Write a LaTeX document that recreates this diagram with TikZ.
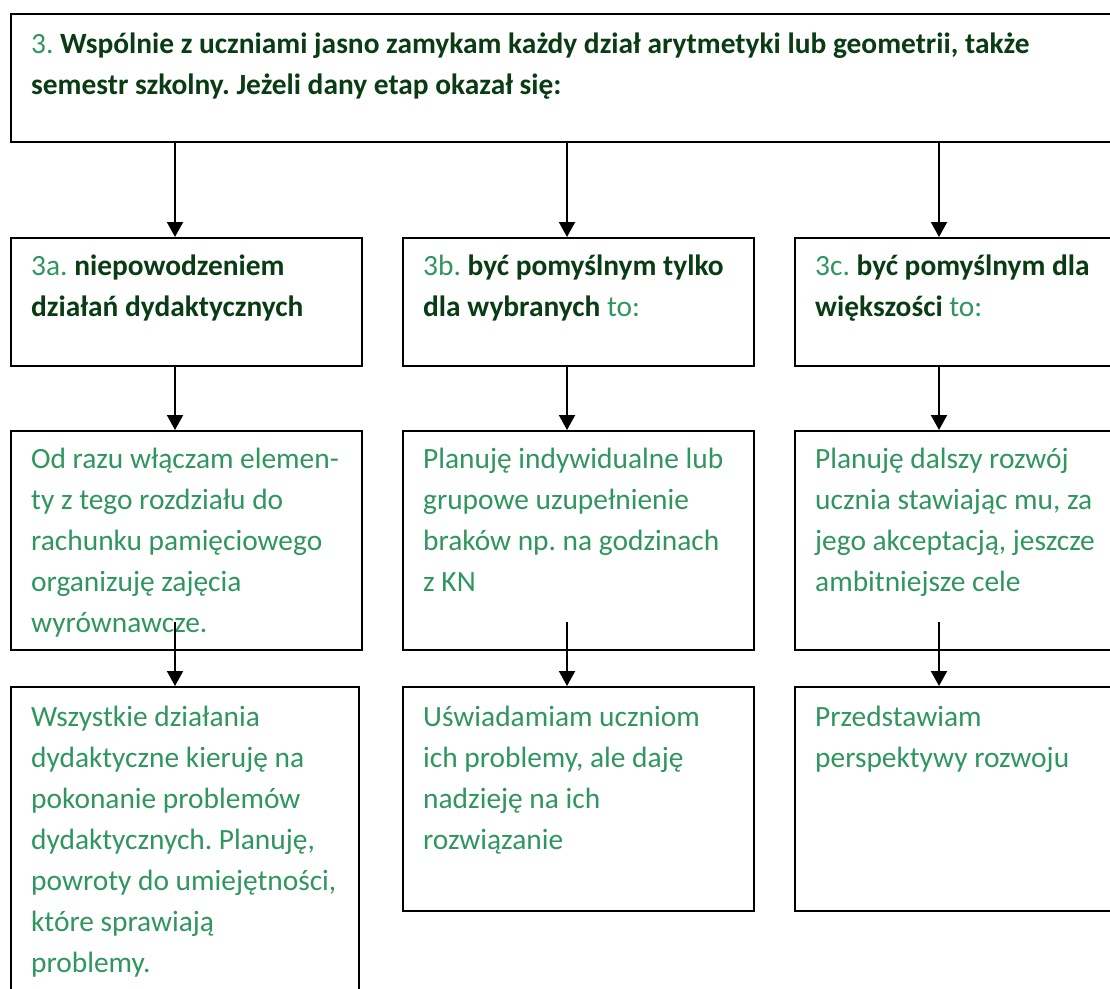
\documentclass[tikz,border=0pt]{standalone}
\usepackage{fontspec}
\setmainfont{Carlito}
\usetikzlibrary{arrows.meta}
\definecolor{lgreen}{RGB}{48,150,95}
\definecolor{dgreen}{RGB}{10,60,20}
\newcommand\dg[1]{{\color{dgreen}\bfseries #1}}
\tikzset{
  boxstyle/.style={draw=black, line width=2pt, rectangle, inner sep=0pt, fill=none},
  txt/.style={anchor=north west, inner sep=0pt, align=left, text=lgreen,
    font=\fontsize{29.4}{41}\selectfont\frenchspacing},
  arr/.style={line width=2pt, -{Triangle[width=16pt,length=15pt]}}
}
\begin{document}
\begin{tikzpicture}[x=1pt,y=-1pt]
\useasboundingbox (0,0) rectangle (1110,988);
\clip (0,0) rectangle (1110,988);
\fill[white] (0,0) rectangle (1110,988);
% boxes
\node[boxstyle, minimum width=1110pt, minimum height=128pt, anchor=north west] (top) at (10,13) {};
\node[boxstyle, minimum width=351pt, minimum height=128pt, anchor=north west] (a2) at (10,237) {};
\node[boxstyle, minimum width=351pt, minimum height=128pt, anchor=north west] (b2) at (402,237) {};
\node[boxstyle, minimum width=330pt, minimum height=128pt, anchor=north west] (c2) at (794,237) {};
\node[boxstyle, minimum width=351pt, minimum height=219pt, anchor=north west] (a3) at (10,430) {};
\node[boxstyle, minimum width=351pt, minimum height=219pt, anchor=north west] (b3) at (402,430) {};
\node[boxstyle, minimum width=330pt, minimum height=219pt, anchor=north west] (c3) at (794,430) {};
\node[boxstyle, minimum width=348pt, minimum height=320pt, anchor=north west] (a4) at (10,686) {};
\node[boxstyle, minimum width=351pt, minimum height=224pt, anchor=north west] (b4) at (402,686) {};
\node[boxstyle, minimum width=330pt, minimum height=224pt, anchor=north west] (c4) at (794,686) {};
% texts (north = first baseline - 28.7)
\node[txt] (ttop) at (31,24.3) {\strut 3. \dg{Wspólnie z uczniami jasno zamykam każdy dział arytmetyki lub geometrii, także}\\\dg{semestr szkolny. Jeżeli dany etap okazał się:}};
\node[txt] (ta2) at (31,246.3) {\strut 3a. \dg{niepowodzeniem}\\\dg{działań dydaktycznych}};
\node[txt] (tb2) at (423,246.3) {\strut 3b. \dg{być pomyślnym tylko}\\\dg{dla wybranych} to:};
\node[txt] (tc2) at (815,246.3) {\strut 3c. \dg{być pomyślnym dla}\\\dg{większości} to:};
\node[txt] (ta3) at (31,439.3) {\strut Od razu włączam elemen-\\ty z tego rozdziału do\\rachunku pamięciowego\\organizuję zajęcia\\wyrównawcze.};
\node[txt] (tb3) at (423,439.3) {\strut Planuję indywidualne lub\\grupowe uzupełnienie\\braków np. na godzinach\\z KN};
\node[txt] (tc3) at (815,439.3) {\strut Planuję dalszy rozwój\\ucznia stawiając mu, za\\jego akceptacją, jeszcze\\ambitniejsze cele};
\node[txt] (ta4) at (31,697.3) {\strut Wszystkie działania\\dydaktyczne kieruję na\\pokonanie problemów\\dydaktycznych. Planuję,\\powroty do umiejętności,\\które sprawiają\\problemy.};
\node[txt] (tb4) at (423,697.3) {\strut Uświadamiam uczniom\\ich problemy, ale daję\\nadzieję na ich\\rozwiązanie};
\node[txt] (tc4) at (815,697.3) {\strut Przedstawiam\\perspektywy rozwoju};
% arrow columns
\coordinate (xa) at (175,0);
\coordinate (xb) at (567,0);
\coordinate (xc) at (939,0);
\coordinate (sa) at (175,622);
\coordinate (sb) at (567,622);
\coordinate (sc) at (939,622);
\draw[arr] (top.south -| xa) -- (xa |- a2.north);
\draw[arr] (top.south -| xb) -- (xb |- b2.north);
\draw[arr] (top.south -| xc) -- (xc |- c2.north);
\draw[arr] (a2.south -| xa) -- (xa |- a3.north);
\draw[arr] (b2.south -| xb) -- (xb |- b3.north);
\draw[arr] (c2.south -| xc) -- (xc |- c3.north);
\draw[arr] (sa) -- (xa |- a4.north);
\draw[arr] (sb) -- (xb |- b4.north);
\draw[arr] (sc) -- (xc |- c4.north);
\end{tikzpicture}
\end{document}
